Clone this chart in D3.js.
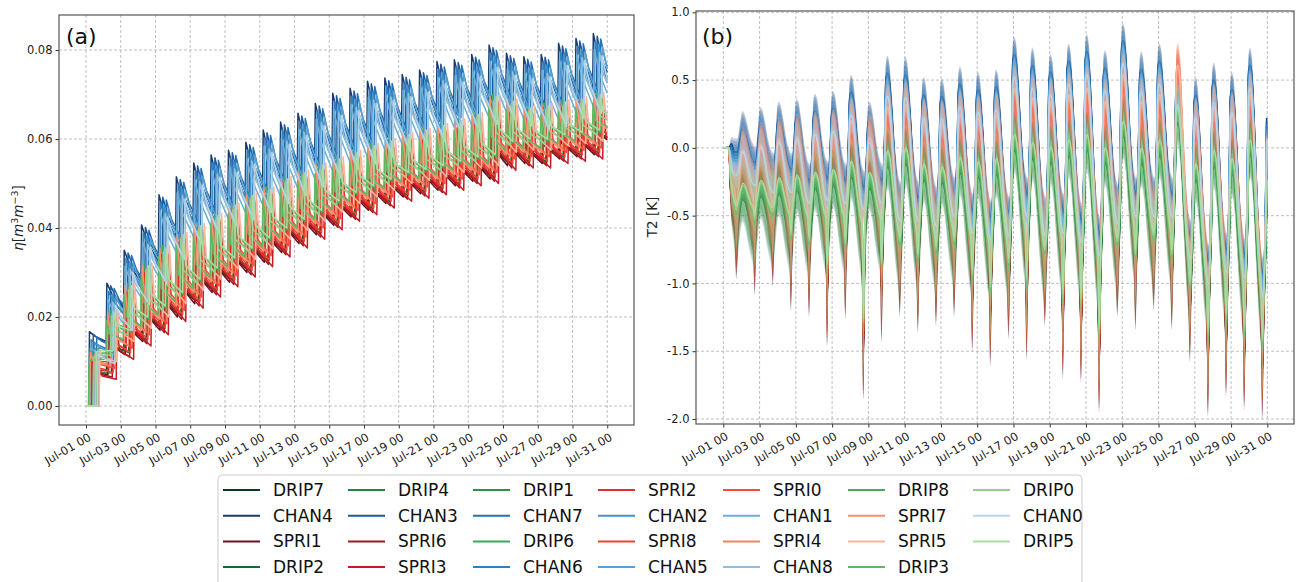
<!DOCTYPE html>
<html><head><meta charset="utf-8">
<script src="https://cdn.jsdelivr.net/npm/d3@7"></script>
<style>body{margin:0;background:#fff;}svg{display:block;font-family:"DejaVu Sans",sans-serif;}</style>
</head><body><svg id="c" width="1296" height="582"></svg>
<script>
// ---------- tick labels ----------
const xTickDays = [0,2,4,6,8,10,12,14,16,18,20,22,24,26,28,30];
const xTickLabels = ["Jul-01 00","Jul-03 00","Jul-05 00","Jul-07 00","Jul-09 00","Jul-11 00","Jul-13 00","Jul-15 00","Jul-17 00","Jul-19 00","Jul-21 00","Jul-23 00","Jul-25 00","Jul-27 00","Jul-29 00","Jul-31 00"];
const yTicksA = [0,0.02,0.04,0.06,0.08];
const yTickLabelsA = ["0.00","0.02","0.04","0.06","0.08"];
const yTicksB = [1,0.5,0,-0.5,-1,-1.5,-2];
const yTickLabelsB = ["1.0","0.5","0.0","-0.5","-1.0","-1.5","-2.0"];

// ---------- series (legend / plotting order) ----------
const seriesNames = ["DRIP7","CHAN4","SPRI1","DRIP2","DRIP4","CHAN3","SPRI6","SPRI3","DRIP1","CHAN7","DRIP6","CHAN6","SPRI2","CHAN2","SPRI8","CHAN5","SPRI0","CHAN1","SPRI4","CHAN8","DRIP8","SPRI7","SPRI5","DRIP3","DRIP0","CHAN0","DRIP5"];
const seriesColors = ["#0b3c1e","#193b6e","#6a1222","#106b33","#1e8542","#1d5b9d","#9e1a23","#c81a1f","#2c9149","#2471b5","#3da759","#2f80c1","#e1302b","#4391c8","#ef4332","#58a1d2","#f24f3b","#6aafd8","#f7845f","#8ec0e1","#48ab58","#f8906f","#fbb49a","#5db862","#92d18b","#b7d5ea","#abdca4"];
const seriesGroup = seriesNames.map(n => n.slice(0,4));

// ---------- panel (a): soil moisture, daily values ----------
const chanPeakTop = [0.0167,0.0276,0.0350,0.0407,0.0475,0.0515,0.0546,0.0564,0.0575,0.0593,0.0620,0.0638,0.0658,0.0680,0.0703,0.0714,0.0730,0.0737,0.0745,0.0755,0.0774,0.0778,0.0790,0.0811,0.0793,0.0785,0.0790,0.0815,0.0826,0.0837];
const chanTroughLow = [0.0095,0.0170,0.0228,0.0275,0.0330,0.0365,0.0388,0.0405,0.0418,0.0435,0.0455,0.0473,0.0493,0.0513,0.0532,0.0545,0.0560,0.0573,0.0583,0.0595,0.0610,0.0617,0.0633,0.0645,0.0630,0.0622,0.0628,0.0646,0.0658,0.0668];
const gndPeakTop = [0.0125,0.0216,0.0276,0.0320,0.0360,0.0390,0.0410,0.0433,0.0456,0.0478,0.0492,0.0515,0.0530,0.0546,0.0560,0.0575,0.0590,0.0600,0.0615,0.0625,0.0635,0.0645,0.0660,0.0700,0.0690,0.0675,0.0680,0.0688,0.0695,0.0705];
const gndTroughLow = [0.0060,0.0105,0.0135,0.0160,0.0190,0.0220,0.0245,0.0268,0.0290,0.0313,0.0335,0.0355,0.0375,0.0396,0.0415,0.0430,0.0445,0.0460,0.0467,0.0475,0.0485,0.0495,0.0500,0.0530,0.0535,0.0535,0.0545,0.0550,0.0555,0.0580];
const soilOffset = [0.005,0.0,0.006,0.0055,0.002,0.0006,0.0065,0.007,0.003,0.0012,0.0,0.0018,0.005,0.0025,0.0055,0.003,0.0045,0.0036,0.004,0.0043,0.001,0.0035,0.003,0.0025,0.0015,0.005,0.0005];
const soilPhase = [0.22,0.2,0.3,0.5,0.72,0.42,0.55,0.78,0.28,0.62,0.4,0.3,0.35,0.5,0.6,0.72,0.7,0.25,0.48,0.55,0.65,0.25,0.8,0.18,0.45,0.7,0.6];

// ---------- panel (b): T2 difference, daily values ----------
const chanT2Peak = [0.05,0.08,0.12,0.14,0.18,0.2,0.32,0.12,0.46,0.45,0.3,0.29,0.38,0.34,0.36,0.6,0.52,0.47,0.55,0.62,0.5,0.7,0.49,0.55,0.4,0.3,0.41,0.34,0.52,0.18]; // day 1..30
const chanT2Low = [-0.12,-0.2,-0.25,-0.25,-0.33,-0.31,-0.33,-0.38,-0.33,-0.46,-0.46,-0.5,-0.43,-0.55,-0.6,-0.57,-0.43,-0.57,-0.55,-0.62,-0.72,-0.48,-0.43,-0.43,-0.43,-0.74,-0.92,-0.84,-0.88,-1.02]; // day 0..29
const spriT2Peak = [-0.08,-0.04,0.0,0.02,0.04,0.06,0.14,0.02,0.24,0.26,0.14,0.12,0.19,0.16,0.18,0.38,0.31,0.28,0.33,0.38,0.28,0.48,0.28,0.33,0.55,0.14,0.24,0.19,0.33,0.04];
const dripT2Peak = [-0.32,-0.3,-0.28,-0.26,-0.24,-0.22,-0.16,-0.24,-0.08,-0.06,-0.18,-0.2,-0.13,-0.16,-0.14,0.04,-0.02,-0.05,0.0,0.04,-0.06,0.14,-0.06,0.0,0.24,-0.18,-0.08,-0.14,0.0,-0.26];
const spriT2Pre = [-0.4,-0.45,-0.45,-0.5,-0.52,-0.52,-0.52,-0.58,-0.52,-0.62,-0.62,-0.64,-0.6,-0.68,-0.72,-0.7,-0.62,-0.7,-0.7,-0.74,-0.82,-0.64,-0.6,-0.6,-0.62,-0.84,-0.97,-0.92,-0.97,-1.08];
const dripT2Pre = [-0.48,-0.53,-0.53,-0.58,-0.6,-0.6,-0.6,-0.66,-0.6,-0.7,-0.7,-0.72,-0.68,-0.76,-0.8,-0.78,-0.7,-0.78,-0.78,-0.82,-0.9,-0.72,-0.68,-0.68,-0.7,-0.92,-1.05,-1.0,-1.05,-1.15];
const spriT2Dip = [-0.55,-0.63,-0.56,-0.74,-0.79,-1.0,-0.8,-1.39,-0.97,-0.78,-0.9,-0.85,-0.78,-1.05,-1.15,-0.95,-1.1,-0.85,-1.24,-1.27,-1.49,-0.78,-0.88,-0.73,-0.88,-1.12,-1.52,-1.37,-1.47,-1.54];
const dripT2Dip = [-0.55,-0.62,-0.56,-0.74,-0.78,-0.98,-0.8,-1.38,-0.95,-0.78,-0.9,-0.84,-0.78,-1.03,-1.12,-0.94,-1.08,-0.84,-1.2,-1.24,-1.46,-0.78,-0.88,-0.74,-0.88,-1.1,-1.48,-1.35,-1.44,-1.52];
const t2Offset = [-0.06,0.09,-0.06,-0.045,-0.03,0.07,-0.045,-0.03,-0.015,0.045,0.0,0.02,-0.015,0.0,0.0,-0.02,0.015,-0.04,0.03,-0.06,0.015,0.045,0.06,0.03,0.045,-0.08,0.06];

// ---------- build ----------
const svg = d3.select("#c");
const A = {l:59, r:634, t:15, b:425};
const B = {l:696, r:1294, t:11, b:424};
const xA = d3.scaleLinear().domain([-1.554, 31.54]).range([A.l, A.r]);
const yA = d3.scaleLinear().domain([-0.00427, 0.08787]).range([A.b, A.t]);
const xB = d3.scaleLinear().domain([-1.506, 31.47]).range([B.l, B.r]);
const yB = d3.scaleLinear().domain([-2.0369, 1.0096]).range([B.b, B.t]);

function clipAt(pts, tEnd){
  const out=[];
  for (let j=0;j<pts.length;j++){
    if (pts[j][0] <= tEnd) out.push(pts[j]);
    else { const a=pts[j-1], b=pts[j]; const f=(tEnd-a[0])/(b[0]-a[0]); out.push([tEnd, a[1]+f*(b[1]-a[1])]); break; }
  }
  return out;
}
function soilPoints(i){
  const g = seriesGroup[i];
  const top = g==="CHAN" ? chanPeakTop : gndPeakTop;
  const low = g==="CHAN" ? chanTroughLow : gndTroughLow;
  const offMax = g==="CHAN" ? 0.005 : 0.007;
  const boost = g==="SPRI" ? 0.003 : 0;
  const frac = g==="CHAN" ? 0.55 : 0.3;
  const dt = g==="CHAN" ? 0.3 : 0.15;
  const off = soilOffset[i], ph = soilPhase[i];
  const pts = [[0,0]];
  let before = 0;
  for (let k=0;k<30;k++){
    const t0 = k+ph;
    pts.push([t0-0.04, before]);
    const peak = top[k]-off+boost;
    const after = low[k]+(offMax-off);
    pts.push([t0, peak]);
    pts.push([t0+dt, after+frac*(peak-after)]);
    before = after;
  }
  pts.push([30+ph-0.04, before]);
  return clipAt(pts, 30);
}
// each point: [t, value, band half-width]
function t2Points(i){
  const g = seriesGroup[i], o = t2Offset[i];
  const pts = [[0,0,0],[0.3,0,0.01]];
  if (g==="CHAN"){
    let Lp = chanT2Low[0]+o;
    pts.push([0.45,-0.06+o,0.05],[0.62,Lp,0.1],[0.78,Lp,0.1]);
    for (let k=1;k<=30;k++){
      const P = chanT2Peak[k-1]+o;
      pts.push([k-0.1, Lp+0.45*(P-Lp),0.12],[k-0.04,P-0.05,0.13],[k+0.04,P,0.13]);
      if (k===30) break;
      const L = chanT2Low[k]+o;
      pts.push([k+0.14,P-0.04*(P-L),0.13],[k+0.28,P-0.28*(P-L),0.13],[k+0.46,L+0.3*(P-L),0.13],[k+0.62,L+0.06*(P-L),0.13],[k+0.78,L,0.12]);
      Lp = L;
    }
  } else {
    const peak = g==="SPRI" ? spriT2Peak : dripT2Peak;
    const pre = g==="SPRI" ? spriT2Pre : dripT2Pre;
    const dip = g==="SPRI" ? spriT2Dip : dripT2Dip;
    let Rp = pre[0]+o*1.5;
    pts.push([0.42,-0.3+o,0.12],[0.62,Rp,0.2],[0.72,dip[0]+o*2,0.3],[0.82,Rp,0.22]);
    for (let k=1;k<=30;k++){
      const P = peak[k-1]+o;
      pts.push([k-0.08, Rp+0.5*(P-Rp),0.17],[k-0.01,P-0.03,0.17],[k+0.07,P,0.17]);
      if (k===30) break;
      const R = pre[k]+o*1.5;
      pts.push([k+0.2,P-0.1*(P-R),0.19],[k+0.38,R+0.5*(P-R),0.22],[k+0.55,R+0.15*(P-R),0.24],[k+0.65,R,0.26],[k+0.73,dip[k]+o*2,0.34],[k+0.81,R+0.03,0.24]);
      Rp = R+0.03;
    }
  }
  return pts.filter(p=>p[0]<=30);
}

// ---------- axes / grid ----------
function drawAxes(X, Y, F, yTicks, yLabels){
  const g = svg.append("g");
  g.selectAll(".gx").data(xTickDays).join("line")
    .attr("x1",d=>X(d)).attr("x2",d=>X(d)).attr("y1",F.t).attr("y2",F.b)
    .attr("stroke","#b0b0b0").attr("stroke-width",0.8).attr("stroke-dasharray","3,2");
  g.selectAll(".gy").data(yTicks).join("line")
    .attr("x1",F.l).attr("x2",F.r).attr("y1",d=>Y(d)).attr("y2",d=>Y(d))
    .attr("stroke","#b0b0b0").attr("stroke-width",0.8).attr("stroke-dasharray","3,2");
  const ax = svg.append("g").attr("transform",`translate(0,${F.b})`)
    .call(d3.axisBottom(X).tickValues(xTickDays).tickSize(3.5).tickFormat((d,i)=>xTickLabels[i]));
  ax.select(".domain").remove();
  ax.selectAll("line").attr("stroke","#333");
  ax.selectAll("text").attr("x",0).attr("y",0).attr("dy","0.75em")
    .attr("transform","translate(1,7) rotate(-30)").style("text-anchor","end")
    .attr("font-size","11.5px").attr("font-family","DejaVu Sans").attr("fill","#222");
  const ay = svg.append("g").attr("transform",`translate(${F.l},0)`)
    .call(d3.axisLeft(Y).tickValues(yTicks).tickSize(3.5).tickFormat((d,i)=>yLabels[i]));
  ay.select(".domain").remove();
  ay.selectAll("line").attr("stroke","#333");
  ay.selectAll("text").attr("font-size","11.5px").attr("font-family","DejaVu Sans").attr("fill","#222");
}
function drawFrame(F){
  svg.append("rect").attr("x",F.l).attr("y",F.t).attr("width",F.r-F.l).attr("height",F.b-F.t)
    .attr("fill","none").attr("stroke","#555").attr("stroke-width",1.2);
}

// Panel (a)
drawAxes(xA, yA, A, yTicksA, yTickLabelsA);
svg.append("clipPath").attr("id","clipA").append("rect").attr("x",A.l).attr("y",A.t).attr("width",A.r-A.l).attr("height",A.b-A.t);
const gA = svg.append("g").attr("clip-path","url(#clipA)");
const lineA = d3.line().x(d=>xA(d[0])).y(d=>yA(d[1]));
seriesNames.forEach((n,i)=>{
  gA.append("path").attr("d",lineA(soilPoints(i))).attr("fill","none")
    .attr("stroke",seriesColors[i]).attr("stroke-width",1.5).attr("stroke-linejoin","round");
});
drawFrame(A);

// Panel (b)
drawAxes(xB, yB, B, yTicksB, yTickLabelsB);
svg.append("clipPath").attr("id","clipB").append("rect").attr("x",B.l).attr("y",B.t).attr("width",B.r-B.l).attr("height",B.b-B.t);
const gB = svg.append("g").attr("clip-path","url(#clipB)");
const lineB = d3.line().x(d=>xB(d[0])).y(d=>yB(d[1])).curve(d3.curveMonotoneX);
const areaB = d3.area().x(d=>xB(d[0])).y0(d=>yB(d[1]-d[2])).y1(d=>yB(d[1]+d[2])).curve(d3.curveMonotoneX);
const bandOpacity = {CHAN:0.25, SPRI:0.28, DRIP:0.13};
const lineWidthB = {CHAN:1.5, SPRI:1.5, DRIP:1.2};
seriesNames.forEach((n,i)=>{
  const p = t2Points(i);
  gB.append("path").attr("d",areaB(p)).attr("fill",seriesColors[i]).attr("fill-opacity",bandOpacity[seriesGroup[i]]).attr("stroke","none");
  gB.append("path").attr("d",lineB(p)).attr("fill","none")
    .attr("stroke",seriesColors[i]).attr("stroke-width",lineWidthB[seriesGroup[i]]).attr("stroke-linejoin","round");
});
drawFrame(B);

// panel labels & axis titles
svg.append("text").attr("x",66).attr("y",44).attr("font-size","22px").attr("fill","#111").text("(a)");
svg.append("text").attr("x",702).attr("y",44).attr("font-size","22px").attr("fill","#111").text("(b)");
const yl = svg.append("text").attr("transform","translate(23,218) rotate(-90)").attr("text-anchor","middle")
  .attr("font-size","13.5px").attr("fill","#222");
yl.append("tspan").attr("font-style","italic").text("η");
yl.append("tspan").text("[");
yl.append("tspan").attr("font-style","italic").text("m");
yl.append("tspan").attr("font-size","9.5px").attr("dy","-5").text("3");
yl.append("tspan").attr("font-style","italic").attr("dy","5").text("m");
yl.append("tspan").attr("font-size","9.5px").attr("dy","-5").text("−3");
yl.append("tspan").attr("dy","5").text("]");
svg.append("text").attr("transform","translate(657,217) rotate(-90)").attr("text-anchor","middle")
  .attr("font-size","13.5px").attr("fill","#222").text("T2 [K]");

// legend
const lg = svg.append("g");
lg.append("rect").attr("x",218).attr("y",475).attr("width",864).attr("height",130).attr("rx",4)
  .attr("fill","#fff").attr("stroke","#cccccc").attr("stroke-width",1);
seriesNames.forEach((n,i)=>{
  const c = Math.floor(i/4), r = i%4;
  const x = 223 + c*125, y = 490 + r*25.7;
  lg.append("line").attr("x1",x).attr("x2",x+37).attr("y1",y).attr("y2",y)
    .attr("stroke",seriesColors[i]).attr("stroke-width",2);
  lg.append("text").attr("x",x+50).attr("y",y+6).attr("font-size","17px").attr("fill","#111").text(n);
});
</script>
</body></html>
